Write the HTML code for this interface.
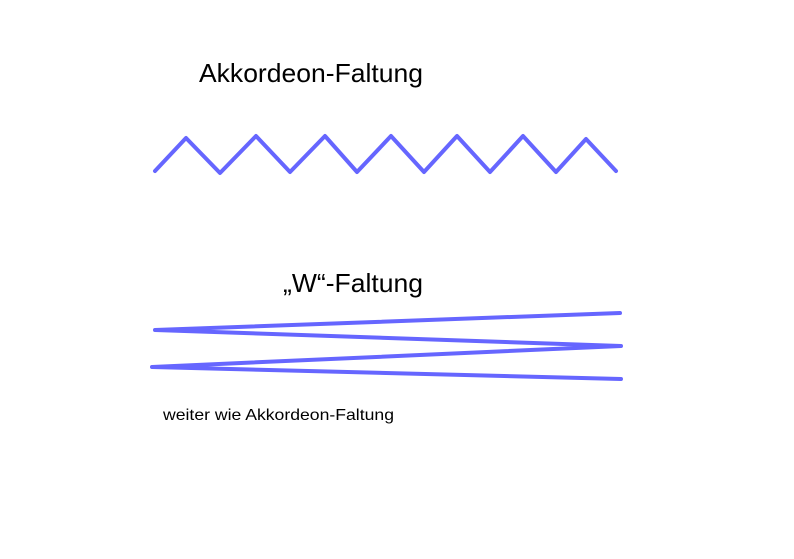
<!DOCTYPE html>
<html><head><style>
body{margin:0;background:#fff;width:794px;height:559px;overflow:hidden}
svg{display:block}
</style></head><body>
<svg width="794" height="559" xmlns="http://www.w3.org/2000/svg">
<text x="199" y="82" font-family="Liberation Sans, sans-serif" font-size="26" textLength="224" lengthAdjust="spacingAndGlyphs" fill="#000">Akkordeon-Faltung</text>
<polyline points="155,171 186,138 220,173 256,136 290,172 325,136 357,172 391,136 424,172 457,136 490,172 523,136 556,172 586,139 616,171" fill="none" stroke="#6666ff" stroke-width="4" stroke-linecap="round" stroke-linejoin="round"/>
<text x="283" y="292" font-family="Liberation Sans, sans-serif" font-size="26" textLength="140" lengthAdjust="spacingAndGlyphs" fill="#000">„W“-Faltung</text>
<polyline points="620,313 155,330 621,346 152,367 621,379" fill="none" stroke="#6666ff" stroke-width="4" stroke-linecap="round" stroke-linejoin="round"/>
<text x="163" y="420" font-family="Liberation Sans, sans-serif" font-size="16" textLength="231" lengthAdjust="spacingAndGlyphs" fill="#000">weiter wie Akkordeon-Faltung</text>
</svg>
</body></html>
